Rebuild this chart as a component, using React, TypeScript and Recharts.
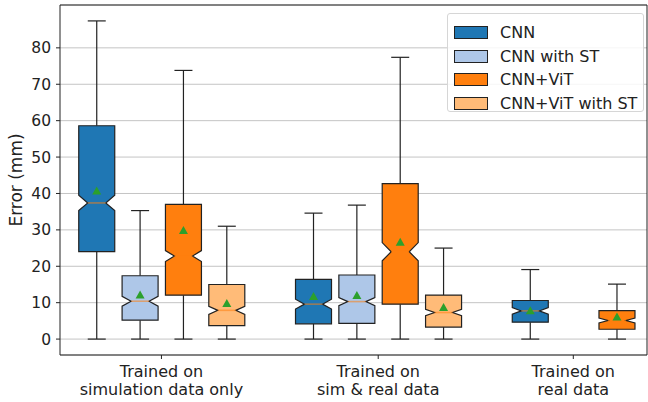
import React from 'react'
import {
    ComposedChart,
    Bar,
    XAxis,
    YAxis,
    CartesianGrid,
    ReferenceLine,
    Legend
} from 'recharts'

// groups along the x axis
const groupLabels = [
    ['Trained on', 'simulation data only'],
    ['Trained on', 'sim & real data'],
    ['Trained on', 'real data']
]
const groupTicks = [2.5, 7.5, 12]

const seriesNames = ['CNN', 'CNN with ST', 'CNN+ViT', 'CNN+ViT with ST']
const seriesColors = ['#1f77b4', '#aec7e8', '#ff7f0e', '#ffbb78']

// slot of each box per group (null = no box)
const positions = [
    [1, 6, 11],
    [2, 7, null],
    [3, 8, 13],
    [4, 9, null]
]

// per series, per group
const whiskerLow = [
    [0, 0, 0],
    [0, 0, null],
    [0, 0, 0],
    [0, 0, null]
]
const q1 = [
    [24.0, 4.2, 4.65],
    [5.2, 4.3, null],
    [12.05, 9.6, 2.7],
    [3.7, 3.3, null]
]
const medians = [
    [37.4, 9.6, 7.75],
    [10.4, 10.3, null],
    [22.8, 24.0, 5.1],
    [7.9, 7.3, null]
]
const q3 = [
    [58.6, 16.4, 10.6],
    [17.4, 17.6, null],
    [37.0, 42.7, 7.8],
    [15.0, 12.1, null]
]
const whiskerHigh = [
    [87.4, 34.6, 19.1],
    [35.3, 36.8, null],
    [73.8, 77.4, 15.1],
    [31.0, 25.0, null]
]
// half-height of the notch around the median
const notchHalf = [
    [2.1, 1.35, 0.93],
    [1.35, 1.1, null],
    [1.5, 2.5, 0.68],
    [1.1, 0.85, null]
]
const means = [
    [40.7, 11.7, 7.8],
    [12.1, 12.0, null],
    [29.8, 26.6, 6.1],
    [9.8, 8.7, null]
]

const yTicks = [0, 10, 20, 30, 40, 50, 60, 70, 80]

const rows: any[] = []
seriesNames.forEach((name, s) => {
    positions[s].forEach((pos, g) => {
        if (pos === null) return
        rows.push({
            pos,
            series: s,
            range: [whiskerLow[s][g], whiskerHigh[s][g]],
            q1: q1[s][g],
            med: medians[s][g],
            q3: q3[s][g],
            notch: notchHalf[s][g],
            mean: means[s][g]
        })
    })
})
rows.sort((a, b) => a.pos - b.pos)

const FONT = 'DejaVu Sans, sans-serif'
const EDGE = '#222'

function BoxShape(props: any) {
    const { x, y, width, height, payload } = props
    const cx = x + width / 2
    const [lo, hi] = payload.range
    const py = (v: number) => y + (height * (hi - v)) / (hi - lo)
    const hw = 18
    const nw = 9
    const nLo = payload.med - payload.notch
    const nHi = payload.med + payload.notch
    const d = [
        `M${cx - hw},${py(payload.q1)}`,
        `L${cx + hw},${py(payload.q1)}`,
        `L${cx + hw},${py(nLo)}`,
        `L${cx + nw},${py(payload.med)}`,
        `L${cx + hw},${py(nHi)}`,
        `L${cx + hw},${py(payload.q3)}`,
        `L${cx - hw},${py(payload.q3)}`,
        `L${cx - hw},${py(nHi)}`,
        `L${cx - nw},${py(payload.med)}`,
        `L${cx - hw},${py(nLo)}`,
        'Z'
    ].join(' ')
    const my = py(payload.mean)
    return (
        <g>
            <line x1={cx} x2={cx} y1={py(payload.q3)} y2={py(hi)} stroke={EDGE} strokeWidth={1.2} />
            <line x1={cx} x2={cx} y1={py(payload.q1)} y2={py(lo)} stroke={EDGE} strokeWidth={1.2} />
            <line x1={cx - 9} x2={cx + 9} y1={py(hi)} y2={py(hi)} stroke={EDGE} strokeWidth={1.2} />
            <line x1={cx - 9} x2={cx + 9} y1={py(lo)} y2={py(lo)} stroke={EDGE} strokeWidth={1.2} />
            <path d={d} fill={seriesColors[payload.series]} stroke={EDGE} strokeWidth={1.2} />
            <line
                x1={cx - nw}
                x2={cx + nw}
                y1={py(payload.med)}
                y2={py(payload.med)}
                stroke="#ff7f0e"
                strokeOpacity={0.55}
                strokeWidth={1.6}
            />
            <path d={`M${cx - 4.5},${my + 3.5} L${cx + 4.5},${my + 3.5} L${cx},${my - 4.5} Z`} fill="#2ca02c" />
        </g>
    )
}

function GroupTick(props: any) {
    const { x, y, payload } = props
    const idx = groupTicks.indexOf(payload.value)
    const lines = groupLabels[idx] || []
    return (
        <text x={x} y={y} textAnchor="middle" fontSize={16} fontFamily={FONT} fill="#222">
            {lines.map((l, i) => (
                <tspan key={i} x={x} dy={i === 0 ? 16 : 17.5}>
                    {l}
                </tspan>
            ))}
        </text>
    )
}

function LegendBox() {
    return (
        <div
            style={{
                background: 'rgba(255,255,255,0.85)',
                border: '1px solid #d6d6d6',
                borderRadius: 3,
                width: 197,
                height: 99,
                boxSizing: 'border-box',
                padding: '7px 0 0 6px',
                fontFamily: FONT,
                fontSize: 16,
                color: '#222'
            }}
        >
            {seriesNames.map((n, i) => (
                <div key={n} style={{ display: 'flex', alignItems: 'center', height: 23.5 }}>
                    <span
                        style={{
                            display: 'inline-block',
                            width: 32,
                            height: 11,
                            background: seriesColors[i],
                            border: `1px solid ${EDGE}`,
                            marginRight: 12
                        }}
                    />
                    <span>{n}</span>
                </div>
            ))}
        </div>
    )
}

export default function App() {
    return (
        <div style={{ position: 'fixed', left: 0, top: 0, width: 648, height: 402, background: '#fff' }}>
            <ComposedChart
                width={648}
                height={402}
                data={rows}
                margin={{ top: 5, right: 1, left: 0, bottom: 0 }}
            >
                <CartesianGrid vertical={false} stroke="#c4c4c4" strokeWidth={1} />
                <XAxis
                    dataKey="pos"
                    type="number"
                    domain={[0.16, 13.7]}
                    allowDataOverflow
                    ticks={groupTicks}
                    tick={<GroupTick />}
                    tickSize={4}
                    tickMargin={2}
                    height={47}
                    stroke={EDGE}
                    interval={0}
                />
                <YAxis
                    type="number"
                    domain={[-4.37, 91.77]}
                    allowDataOverflow
                    ticks={yTicks}
                    width={60}
                    tickSize={4}
                    tickMargin={5}
                    stroke={EDGE}
                    tick={{ fontSize: 15.5, fontFamily: FONT, fill: '#222' }}
                    label={{
                        value: 'Error (mm)',
                        angle: -90,
                        position: 'insideLeft',
                        offset: 16,
                        style: { fontSize: 17, fontFamily: FONT, fill: '#222', textAnchor: 'middle' }
                    }}
                />
                <ReferenceLine y={91.77} stroke={EDGE} ifOverflow="extendDomain" />
                <ReferenceLine x={13.7} stroke={EDGE} />
                <Bar dataKey="range" barSize={36} shape={<BoxShape />} isAnimationActive={false} />
                <Legend
                    layout="vertical"
                    align="center"
                    verticalAlign="middle"
                    content={() => <LegendBox />}
                    wrapperStyle={{ top: 13, left: 447, width: 197, height: 99 }}
                />
            </ComposedChart>
        </div>
    )
}
